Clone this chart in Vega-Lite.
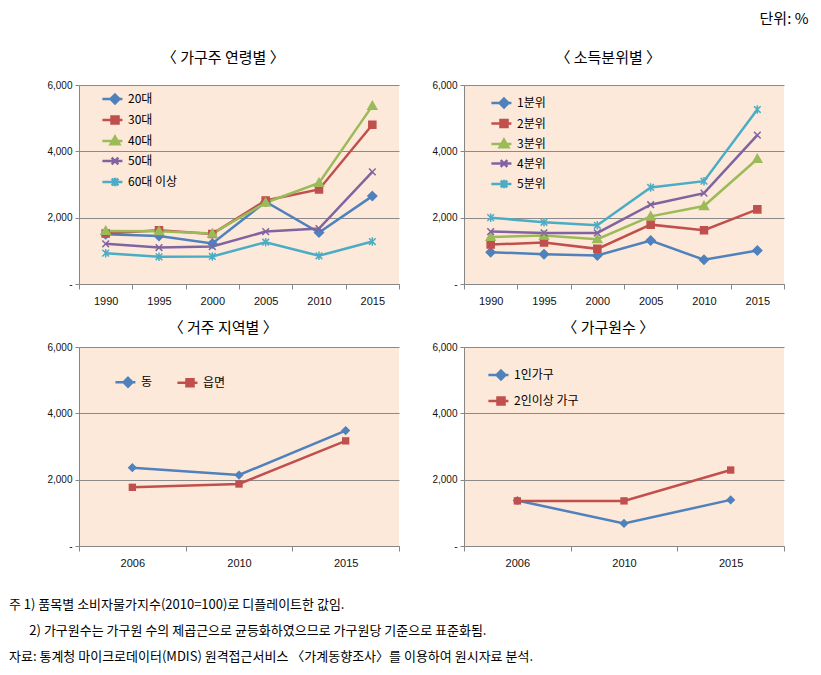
{
  "$schema": "https://vega.github.io/schema/vega-lite/v6.json",
  "padding": {"left": 8, "top": 12, "right": 4, "bottom": 4},
  "background": "white",
  "config": {
    "view": {"fill": "#FDE9D9", "stroke": null},
    "font": "Noto Sans CJK KR",
    "title": {"font": "Noto Sans CJK KR", "fontSize": 15, "fontWeight": "normal", "color": "#000000", "frame": "bounds"},
    "axis": {"labelFont": "Liberation Sans", "labelFontSize": 10, "labelColor": "#111111", "domainColor": "#868686", "tickColor": "#868686", "gridColor": "#8a8a8a"},
    "legend": {"labelFont": "Noto Sans CJK KR", "labelFontSize": 12, "labelColor": "#000000"}
  },
  "datasets": {
    "age": [
      {"year": "1990", "series": "20대", "value": 1500}, {"year": "1995", "series": "20대", "value": 1450}, {"year": "2000", "series": "20대", "value": 1220}, {"year": "2005", "series": "20대", "value": 2480}, {"year": "2010", "series": "20대", "value": 1550}, {"year": "2015", "series": "20대", "value": 2650},
      {"year": "1990", "series": "30대", "value": 1520}, {"year": "1995", "series": "30대", "value": 1620}, {"year": "2000", "series": "30대", "value": 1510}, {"year": "2005", "series": "30대", "value": 2520}, {"year": "2010", "series": "30대", "value": 2850}, {"year": "2015", "series": "30대", "value": 4800},
      {"year": "1990", "series": "40대", "value": 1600}, {"year": "1995", "series": "40대", "value": 1590}, {"year": "2000", "series": "40대", "value": 1520}, {"year": "2005", "series": "40대", "value": 2450}, {"year": "2010", "series": "40대", "value": 3050}, {"year": "2015", "series": "40대", "value": 5370},
      {"year": "1990", "series": "50대", "value": 1210}, {"year": "1995", "series": "50대", "value": 1100}, {"year": "2000", "series": "50대", "value": 1130}, {"year": "2005", "series": "50대", "value": 1580}, {"year": "2010", "series": "50대", "value": 1670}, {"year": "2015", "series": "50대", "value": 3380},
      {"year": "1990", "series": "60대 이상", "value": 930}, {"year": "1995", "series": "60대 이상", "value": 820}, {"year": "2000", "series": "60대 이상", "value": 830}, {"year": "2005", "series": "60대 이상", "value": 1260}, {"year": "2010", "series": "60대 이상", "value": 850}, {"year": "2015", "series": "60대 이상", "value": 1280}
    ],
    "income": [
      {"year": "1990", "series": "1분위", "value": 960}, {"year": "1995", "series": "1분위", "value": 900}, {"year": "2000", "series": "1분위", "value": 860}, {"year": "2005", "series": "1분위", "value": 1310}, {"year": "2010", "series": "1분위", "value": 730}, {"year": "2015", "series": "1분위", "value": 1010},
      {"year": "1990", "series": "2분위", "value": 1190}, {"year": "1995", "series": "2분위", "value": 1250}, {"year": "2000", "series": "2분위", "value": 1060}, {"year": "2005", "series": "2분위", "value": 1790}, {"year": "2010", "series": "2분위", "value": 1620}, {"year": "2015", "series": "2분위", "value": 2250},
      {"year": "1990", "series": "3분위", "value": 1420}, {"year": "1995", "series": "3분위", "value": 1460}, {"year": "2000", "series": "3분위", "value": 1350}, {"year": "2005", "series": "3분위", "value": 2040}, {"year": "2010", "series": "3분위", "value": 2350}, {"year": "2015", "series": "3분위", "value": 3770},
      {"year": "1990", "series": "4분위", "value": 1580}, {"year": "1995", "series": "4분위", "value": 1540}, {"year": "2000", "series": "4분위", "value": 1540}, {"year": "2005", "series": "4분위", "value": 2390}, {"year": "2010", "series": "4분위", "value": 2740}, {"year": "2015", "series": "4분위", "value": 4490},
      {"year": "1990", "series": "5분위", "value": 2000}, {"year": "1995", "series": "5분위", "value": 1860}, {"year": "2000", "series": "5분위", "value": 1770}, {"year": "2005", "series": "5분위", "value": 2910}, {"year": "2010", "series": "5분위", "value": 3100}, {"year": "2015", "series": "5분위", "value": 5260}
    ],
    "region": [
      {"year": "2006", "series": "동", "value": 2360}, {"year": "2010", "series": "동", "value": 2140}, {"year": "2015", "series": "동", "value": 3480},
      {"year": "2006", "series": "읍면", "value": 1770}, {"year": "2010", "series": "읍면", "value": 1870}, {"year": "2015", "series": "읍면", "value": 3170}
    ],
    "hh": [
      {"year": "2006", "series": "1인가구", "value": 1370}, {"year": "2010", "series": "1인가구", "value": 680}, {"year": "2015", "series": "1인가구", "value": 1390},
      {"year": "2006", "series": "2인이상 가구", "value": 1360}, {"year": "2010", "series": "2인이상 가구", "value": 1360}, {"year": "2015", "series": "2인이상 가구", "value": 2290}
    ]
  },
  "title": {"text": "단위: %", "anchor": "end", "orient": "top", "dx": 24, "offset": 24},
  "vconcat": [
    {
      "title": {
        "text": [
          "주 1) 품목별 소비자물가지수(2010=100)로 디플레이트한 값임.",
          "\u200b\u00a0\u00a0\u00a0\u00a0\u00a0\u00a0\u00a02) 가구원수는 가구원 수의 제곱근으로 균등화하였으므로 가구원당 기준으로 표준화됨.",
          "자료: 통계청 마이크로데이터(MDIS) 원격접근서비스 〈가계동향조사〉를 이용하여 원시자료 분석."
        ],
        "orient": "bottom", "anchor": "start", "dx": -38, "fontSize": 13, "lineHeight": 26, "offset": 31
      },
      "columns": 2,
      "spacing": {"row": 63, "column": 65},
      "bounds": "flush",
      "resolve": {
        "scale": {"color": "independent", "stroke": "independent", "shape": "independent"},
        "legend": {"color": "independent", "stroke": "independent", "shape": "independent"}
      },
      "concat": [
        {
          "width": 320, "height": 199,
          "title": {"text": "〈 가구주 연령별 〉", "offset": 14},
          "data": {"name": "age"},
          "encoding": {
            "x": {"field": "year", "type": "ordinal", "bandPosition": 0.5, "title": null, "scale": {"type": "band", "paddingInner": 0, "paddingOuter": 0}, "axis": {"tickBand": "extent", "labelAngle": 0, "labelPadding": 6, "tickSize": 5, "grid": false, "labelFontSize": 11}},
            "y": {"field": "value", "type": "quantitative", "title": null, "scale": {"domain": [0, 6000]}, "axis": {"values": [0, 2000, 4000, 6000], "labelExpr": "datum.value === 0 ? '-' : format(datum.value, ',')", "grid": true, "tickSize": 4, "labelPadding": 3}}
          },
          "layer": [
            {"mark": {"type": "line", "strokeWidth": 2.5},
             "encoding": {"color": {"field": "series", "type": "nominal", "scale": {"domain": ["20대", "30대", "40대", "50대", "60대 이상"], "range": ["#4F81BD", "#C0504D", "#9BBB59", "#8064A2", "#4BACC6"]},
                 "legend": {"orient": "none", "legendX": 30, "legendY": 8, "title": null, "symbolSize": 55, "symbolStrokeWidth": 2.5, "labelOffset": 7, "rowPadding": 2,
                   "encode": {"symbols": {"update": {
                     "shape": {"signal": "['M-3.4,0H2M0,-1.2L1.2,0L0,1.2L-1.2,0Z','M-3.4,0H2M-0.95,-0.95H0.95V0.95H-0.95Z','M-3.4,0H2M0,-1.2L1.2,0.9H-1.2Z','M-3.4,0H2M-0.9,-0.9L0.9,0.9M-0.9,0.9L0.9,-0.9','M-3.4,0H2M-0.9,-0.9L0.9,0.9M-0.9,0.9L0.9,-0.9M0,-1.15V1.15'][indexof(['20대','30대','40대','50대','60대 이상'], datum.value)]"},
                     "stroke": {"signal": "['#4F81BD','#C0504D','#9BBB59','#8064A2','#4BACC6'][indexof(['20대','30대','40대','50대','60대 이상'], datum.value)]"},
                     "fill": {"signal": "['#4F81BD','#C0504D','#9BBB59','#8064A2','#4BACC6'][indexof(['20대','30대','40대','50대','60대 이상'], datum.value)]"}
                   }}}}}}},
            {"mark": {"type": "point", "filled": true, "opacity": 1, "size": 55, "strokeWidth": 1.5},
             "encoding": {
               "color": {"field": "series", "type": "nominal", "scale": {"domain": ["20대", "30대", "40대", "50대", "60대 이상"], "range": ["#4F81BD", "#C0504D", "#9BBB59", "#8064A2", "#4BACC6"]}},
               "stroke": {"field": "series", "type": "nominal", "scale": {"domain": ["30대", "20대", "40대", "50대", "60대 이상"], "range": ["#C0504D", "#4F81BD", "#9BBB59", "#8064A2", "#4BACC6"]}, "legend": null},
               "shape": {"field": "series", "type": "nominal", "scale": {"domain": ["60대 이상", "50대", "40대", "30대", "20대"], "range": ["M-0.9,-0.9L0.9,0.9M-0.9,0.9L0.9,-0.9M0,-1.15V1.15", "M-0.9,-0.9L0.9,0.9M-0.9,0.9L0.9,-0.9", "M0,-1.2L1.2,0.9H-1.2Z", "M-0.95,-0.95H0.95V0.95H-0.95Z", "M0,-1.2L1.2,0L0,1.2L-1.2,0Z"]}, "legend": null}
             }}
          ]
        },
        {
          "width": 320, "height": 199,
          "title": {"text": "〈 소득분위별 〉", "offset": 14},
          "data": {"name": "income"},
          "encoding": {
            "x": {"field": "year", "type": "ordinal", "bandPosition": 0.5, "title": null, "scale": {"type": "band", "paddingInner": 0, "paddingOuter": 0}, "axis": {"tickBand": "extent", "labelAngle": 0, "labelPadding": 6, "tickSize": 5, "grid": false, "labelFontSize": 11}},
            "y": {"field": "value", "type": "quantitative", "title": null, "scale": {"domain": [0, 6000]}, "axis": {"values": [0, 2000, 4000, 6000], "labelExpr": "datum.value === 0 ? '-' : format(datum.value, ',')", "grid": true, "tickSize": 4, "labelPadding": 3}}
          },
          "layer": [
            {"mark": {"type": "line", "strokeWidth": 2.5},
             "encoding": {"color": {"field": "series", "type": "nominal", "scale": {"domain": ["1분위", "2분위", "3분위", "4분위", "5분위"], "range": ["#4F81BD", "#C0504D", "#9BBB59", "#8064A2", "#4BACC6"]},
                 "legend": {"orient": "none", "legendX": 34, "legendY": 12, "title": null, "symbolSize": 55, "symbolStrokeWidth": 2.5, "labelOffset": 7, "rowPadding": 1.5,
                   "encode": {"symbols": {"update": {
                     "shape": {"signal": "['M-3.4,0H2M0,-1.2L1.2,0L0,1.2L-1.2,0Z','M-3.4,0H2M-0.95,-0.95H0.95V0.95H-0.95Z','M-3.4,0H2M0,-1.2L1.2,0.9H-1.2Z','M-3.4,0H2M-0.9,-0.9L0.9,0.9M-0.9,0.9L0.9,-0.9','M-3.4,0H2M-0.9,-0.9L0.9,0.9M-0.9,0.9L0.9,-0.9M0,-1.15V1.15'][indexof(['1분위','2분위','3분위','4분위','5분위'], datum.value)]"},
                     "stroke": {"signal": "['#4F81BD','#C0504D','#9BBB59','#8064A2','#4BACC6'][indexof(['1분위','2분위','3분위','4분위','5분위'], datum.value)]"},
                     "fill": {"signal": "['#4F81BD','#C0504D','#9BBB59','#8064A2','#4BACC6'][indexof(['1분위','2분위','3분위','4분위','5분위'], datum.value)]"}
                   }}}}}}},
            {"mark": {"type": "point", "filled": true, "opacity": 1, "size": 55, "strokeWidth": 1.5},
             "encoding": {
               "color": {"field": "series", "type": "nominal", "scale": {"domain": ["1분위", "2분위", "3분위", "4분위", "5분위"], "range": ["#4F81BD", "#C0504D", "#9BBB59", "#8064A2", "#4BACC6"]}},
               "stroke": {"field": "series", "type": "nominal", "scale": {"domain": ["2분위", "1분위", "3분위", "4분위", "5분위"], "range": ["#C0504D", "#4F81BD", "#9BBB59", "#8064A2", "#4BACC6"]}, "legend": null},
               "shape": {"field": "series", "type": "nominal", "scale": {"domain": ["5분위", "4분위", "3분위", "2분위", "1분위"], "range": ["M-0.9,-0.9L0.9,0.9M-0.9,0.9L0.9,-0.9M0,-1.15V1.15", "M-0.9,-0.9L0.9,0.9M-0.9,0.9L0.9,-0.9", "M0,-1.2L1.2,0.9H-1.2Z", "M-0.95,-0.95H0.95V0.95H-0.95Z", "M0,-1.2L1.2,0L0,1.2L-1.2,0Z"]}, "legend": null}
             }}
          ]
        },
        {
          "width": 320, "height": 199,
          "title": {"text": "〈 거주 지역별 〉", "offset": 6},
          "data": {"name": "region"},
          "encoding": {
            "x": {"field": "year", "type": "ordinal", "bandPosition": 0.5, "title": null, "scale": {"type": "band", "paddingInner": 0, "paddingOuter": 0}, "axis": {"tickBand": "extent", "labelAngle": 0, "labelPadding": 6, "tickSize": 5, "grid": false, "labelFontSize": 11}},
            "y": {"field": "value", "type": "quantitative", "title": null, "scale": {"domain": [0, 6000]}, "axis": {"values": [0, 2000, 4000, 6000], "labelExpr": "datum.value === 0 ? '-' : format(datum.value, ',')", "grid": true, "tickSize": 4, "labelPadding": 3}}
          },
          "layer": [
            {"mark": {"type": "line", "strokeWidth": 2.5},
             "encoding": {"color": {"field": "series", "type": "nominal", "scale": {"domain": ["동", "읍면"], "range": ["#4F81BD", "#C0504D"]},
                 "legend": {"orient": "none", "direction": "horizontal", "legendX": 43, "legendY": 29, "title": null, "symbolSize": 55, "symbolStrokeWidth": 2.5, "labelOffset": 7, "columnPadding": 19,
                   "encode": {"symbols": {"update": {
                     "shape": {"signal": "['M-3.4,0H2M0,-1.2L1.2,0L0,1.2L-1.2,0Z','M-3.4,0H2M-0.95,-0.95H0.95V0.95H-0.95Z'][indexof(['동','읍면'], datum.value)]"},
                     "stroke": {"signal": "['#4F81BD','#C0504D'][indexof(['동','읍면'], datum.value)]"},
                     "fill": {"signal": "['#4F81BD','#C0504D'][indexof(['동','읍면'], datum.value)]"}
                   }}}}}}},
            {"mark": {"type": "point", "filled": true, "opacity": 1, "size": 60},
             "encoding": {
               "color": {"field": "series", "type": "nominal", "scale": {"domain": ["동", "읍면"], "range": ["#4F81BD", "#C0504D"]}},
               "shape": {"field": "series", "type": "nominal", "scale": {"domain": ["읍면", "동"], "range": ["M-0.95,-0.95H0.95V0.95H-0.95Z", "M0,-1.2L1.2,0L0,1.2L-1.2,0Z"]}, "legend": null}
             }}
          ]
        },
        {
          "width": 320, "height": 199,
          "title": {"text": "〈 가구원수 〉", "offset": 6},
          "data": {"name": "hh"},
          "encoding": {
            "x": {"field": "year", "type": "ordinal", "bandPosition": 0.5, "title": null, "scale": {"type": "band", "paddingInner": 0, "paddingOuter": 0}, "axis": {"tickBand": "extent", "labelAngle": 0, "labelPadding": 6, "tickSize": 5, "grid": false, "labelFontSize": 11}},
            "y": {"field": "value", "type": "quantitative", "title": null, "scale": {"domain": [0, 6000]}, "axis": {"values": [0, 2000, 4000, 6000], "labelExpr": "datum.value === 0 ? '-' : format(datum.value, ',')", "grid": true, "tickSize": 4, "labelPadding": 3}}
          },
          "layer": [
            {"mark": {"type": "line", "strokeWidth": 2.5},
             "encoding": {"color": {"field": "series", "type": "nominal", "scale": {"domain": ["1인가구", "2인이상 가구"], "range": ["#4F81BD", "#C0504D"]},
                 "legend": {"orient": "none", "legendX": 31, "legendY": 22, "title": null, "symbolSize": 55, "symbolStrokeWidth": 2.5, "labelOffset": 7, "rowPadding": 7,
                   "encode": {"symbols": {"update": {
                     "shape": {"signal": "['M-3.4,0H2M0,-1.2L1.2,0L0,1.2L-1.2,0Z','M-3.4,0H2M-0.95,-0.95H0.95V0.95H-0.95Z'][indexof(['1인가구','2인이상 가구'], datum.value)]"},
                     "stroke": {"signal": "['#4F81BD','#C0504D'][indexof(['1인가구','2인이상 가구'], datum.value)]"},
                     "fill": {"signal": "['#4F81BD','#C0504D'][indexof(['1인가구','2인이상 가구'], datum.value)]"}
                   }}}}}}},
            {"mark": {"type": "point", "filled": true, "opacity": 1, "size": 60},
             "encoding": {
               "color": {"field": "series", "type": "nominal", "scale": {"domain": ["1인가구", "2인이상 가구"], "range": ["#4F81BD", "#C0504D"]}},
               "shape": {"field": "series", "type": "nominal", "scale": {"domain": ["2인이상 가구", "1인가구"], "range": ["M-0.95,-0.95H0.95V0.95H-0.95Z", "M0,-1.2L1.2,0L0,1.2L-1.2,0Z"]}, "legend": null}
             }}
          ]
        }
      ]
    }
  ]
}
